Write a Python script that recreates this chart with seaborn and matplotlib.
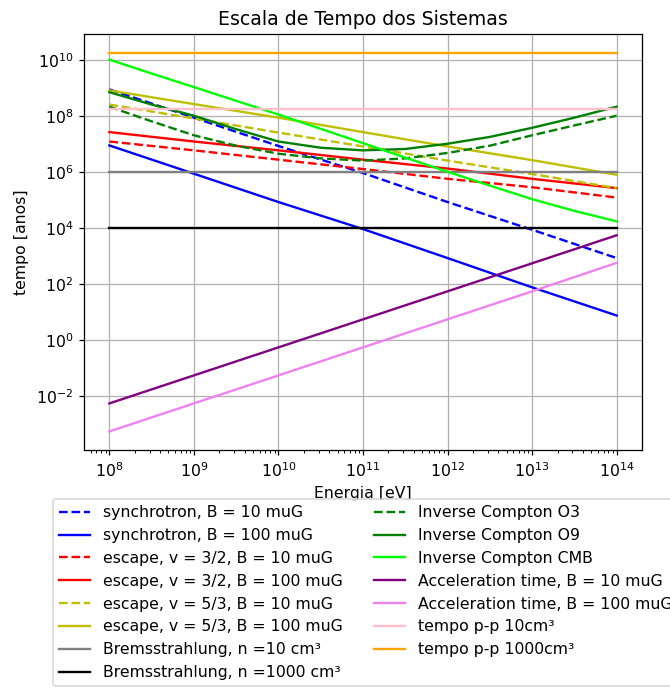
import numpy as np
import matplotlib
matplotlib.use("Agg")
import matplotlib.pyplot as plt
import seaborn as sns

# energias (eV)
energia = [1e8, 1e9, 1e10, 1e11, 1e12, 1e13, 1e14]
energia_meia = [1e8, 3.16e8, 1e9, 3.16e9, 1e10, 3.16e10, 1e11, 3.16e11,
                1e12, 3.16e12, 1e13, 3.16e13, 1e14]

# tempos (anos)
sync_b10 = [8.7e8, 8.5e7, 8.3e6, 9.0e5, 8.3e4, 8.5e3, 8.3e2]
sync_b100 = [8.7e6, 8.5e5, 8.3e4, 9.0e3, 8.3e2, 7.5e1, 7.4]
esc32_b10 = [1.2e7, 5.8e6, 2.7e6, 1.25e6, 5.6e5, 2.8e5, 1.2e5]
esc32_b100 = [2.6e7, 1.2e7, 5.8e6, 2.7e6, 1.3e6, 5.6e5, 2.6e5]
esc53_b10 = [2.5e8, 8.0e7, 2.5e7, 8.0e6, 2.5e6, 8.3e5, 2.6e5]
esc53_b100 = [8.0e8, 2.6e8, 8.5e7, 2.6e7, 8.0e6, 2.6e6, 7.8e5]
brems_n10 = [1e6, 1e6, 1e6, 1e6, 1e6, 1e6, 1e6]
brems_n1000 = [1e4, 1e4, 1e4, 1e4, 1e4, 1e4, 1e4]
ic_o3 = [2.1e8, 6.3e7, 2.0e7, 8.5e6, 4.4e6, 3.0e6, 2.5e6, 3.0e6,
         4.7e6, 8.5e6, 2.0e7, 4.5e7, 1.0e8]
ic_o9 = [6.9e8, 2.5e8, 1.0e8, 3.3e7, 1.2e7, 7.2e6, 5.8e6, 6.5e6,
         1.0e7, 1.75e7, 3.7e7, 8.5e7, 2.1e8]
ic_cmb = [1.0e10, 3.2e9, 1.05e9, 3.4e8, 1.1e8, 3.4e7, 1.05e7, 3.2e6,
          1.0e6, 3.2e5, 1.05e5, 4.0e4, 1.7e4]
acc_b10 = [5.4e-3, 5.4e-2, 5.4e-1, 5.4, 5.4e1, 5.4e2, 5.4e3]
acc_b100 = [5.4e-4, 5.4e-3, 5.4e-2, 5.4e-1, 5.4, 5.4e1, 5.6e2]
pp_10 = [1.7e8] * 7
pp_1000 = [1.7e10] * 7

series = [
    (energia, sync_b10, 'blue', '--', 'synchrotron, B = 10 muG'),
    (energia, sync_b100, 'blue', '-', 'synchrotron, B = 100 muG'),
    (energia, esc32_b10, 'red', '--', 'escape, v = 3/2, B = 10 muG'),
    (energia, esc32_b100, 'red', '-', 'escape, v = 3/2, B = 100 muG'),
    (energia, esc53_b10, 'y', '--', 'escape, v = 5/3, B = 10 muG'),
    (energia, esc53_b100, 'y', '-', 'escape, v = 5/3, B = 100 muG'),
    (energia, brems_n10, 'gray', '-', 'Bremsstrahlung, n =10 cm³'),
    (energia, brems_n1000, 'black', '-', 'Bremsstrahlung, n =1000 cm³'),
    (energia_meia, ic_o3, 'green', '--', 'Inverse Compton O3'),
    (energia_meia, ic_o9, 'green', '-', 'Inverse Compton O9'),
    (energia_meia, ic_cmb, 'lime', '-', 'Inverse Compton CMB'),
    (energia, acc_b10, 'purple', '-', 'Acceleration time, B = 10 muG'),
    (energia, acc_b100, 'violet', '-', 'Acceleration time, B = 100 muG'),
    (energia, pp_10, 'pink', '-', 'tempo p-p 10cm³'),
    (energia, pp_1000, 'orange', '-', 'tempo p-p 1000cm³'),
]

dpi = 113
fig = plt.figure(figsize=(670 / dpi, 689 / dpi), dpi=dpi)
ax = fig.add_axes([0.1254, 0.3464, 0.8328, 0.6038])

for x, y, cor, estilo, nome in series:
    sns.lineplot(x=x, y=y, ax=ax, color=cor, linestyle=estilo, label=nome)

ax.set_xscale('log')
ax.set_yscale('log')
ax.grid(True)
ax.set_xlabel('Energia [eV]')
ax.set_ylabel('tempo [anos]')
ax.set_title('Escala de Tempo dos Sistemas')

ax.legend(loc='upper left', bbox_to_anchor=(0.0787, 0.2758),
          bbox_transform=fig.transFigure, ncol=2, borderaxespad=0)

fig.savefig('out.png', dpi=dpi)
